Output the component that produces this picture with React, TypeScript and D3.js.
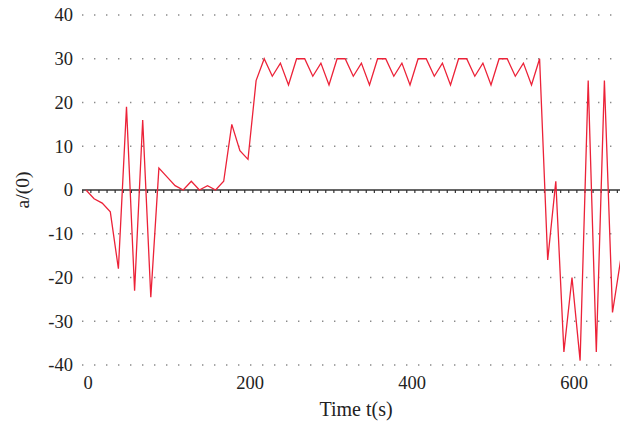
import React from "react";
import * as d3 from "d3";

// sampled acceleration record
const times = [
  0, 10, 20, 30, 40, 50, 60, 70, 80, 90,
  100, 110, 120, 130, 140, 150, 160, 170, 180, 190,
  200, 210, 220, 230, 240, 250, 260, 270, 280, 290,
  300, 310, 320, 330, 340, 350, 360, 370, 380, 390,
  400, 410, 420, 430, 440, 450, 460, 470, 480, 490,
  500, 510, 520, 530, 540, 550, 560, 570, 580, 590,
  600, 610, 620, 630, 640, 650, 660,
];
const accel = [
  0, -2, -3, -5, -18, 19, -23, 16, -24.5, 5,
  3, 1, 0, 2, 0, 1, 0, 2, 15, 9,
  7, 25, 30, 26, 29, 24, 30, 30, 26, 29,
  24, 30, 30, 26, 29, 24, 30, 30, 26, 29,
  24, 30, 30, 26, 29, 24, 30, 30, 26, 29,
  24, 30, 30, 26, 29, 24, 30, -16, 2, -37,
  -20, -39, 25, -37, 25, -28, -16,
];
const yTicks = [40, 30, 20, 10, 0, -10, -20, -30, -40];
const xTicks = [0, 200, 400, 600];
const minorTicks = d3.range(-4, 661, 10);

const W = 620;
const H = 421;
const font = "'Liberation Serif', 'Times New Roman', serif";

export default function App() {
  const x = d3.scaleLinear().domain([0, 660]).range([86, 620.6]);
  const y = d3.scaleLinear().domain([-40, 40]).range([365, 15]);

  const line = d3
    .line<number>()
    .x((d, i) => x(times[i]))
    .y((d) => y(d));

  const gridLeft = 82;

  return (
    <svg
      width={W}
      height={H}
      style={{ position: "absolute", left: 0, top: 0, background: "#fff" }}
    >
      {/* dotted grid */}
      {yTicks
        .filter((t) => t !== 0)
        .map((t) => (
          <line
            key={"g" + t}
            x1={gridLeft}
            x2={W}
            y1={y(t)}
            y2={y(t)}
            stroke="#8a8a8a"
            strokeWidth={1.4}
            strokeDasharray="1.4 10.6"
          />
        ))}

      {/* y tick labels */}
      {yTicks.map((t) => (
        <text
          key={"yl" + t}
          x={73}
          y={y(t)}
          dy="0.35em"
          textAnchor="end"
          fontFamily={font}
          fontSize={18.5}
          fill="#222"
        >
          {t}
        </text>
      ))}

      {/* x tick labels */}
      {xTicks.map((t) => (
        <text
          key={"xl" + t}
          x={x(t) + 2}
          y={389}
          textAnchor="middle"
          fontFamily={font}
          fontSize={18.5}
          fill="#222"
        >
          {t}
        </text>
      ))}

      {/* zero line with minor ticks */}
      <line x1={gridLeft} x2={W} y1={y(0)} y2={y(0)} stroke="#333" strokeWidth={1.5} />
      {minorTicks.map((t) => (
        <line
          key={"m" + t}
          x1={x(t)}
          x2={x(t)}
          y1={y(0)}
          y2={y(0) + 3}
          stroke="#333"
          strokeWidth={1.2}
        />
      ))}

      {/* series */}
      <path d={line(accel) || ""} fill="none" stroke="#ec2238" strokeWidth={1.3} />

      {/* axis titles */}
      <text
        x={356}
        y={416}
        textAnchor="middle"
        fontFamily={font}
        fontSize={20}
        fill="#222"
      >
        Time t(s)
      </text>
      <text
        transform={`translate(29,${y(0)}) rotate(-90)`}
        textAnchor="middle"
        fontFamily={font}
        fontSize={19.5}
        fill="#222"
      >
        a/(0)
      </text>
    </svg>
  );
}
